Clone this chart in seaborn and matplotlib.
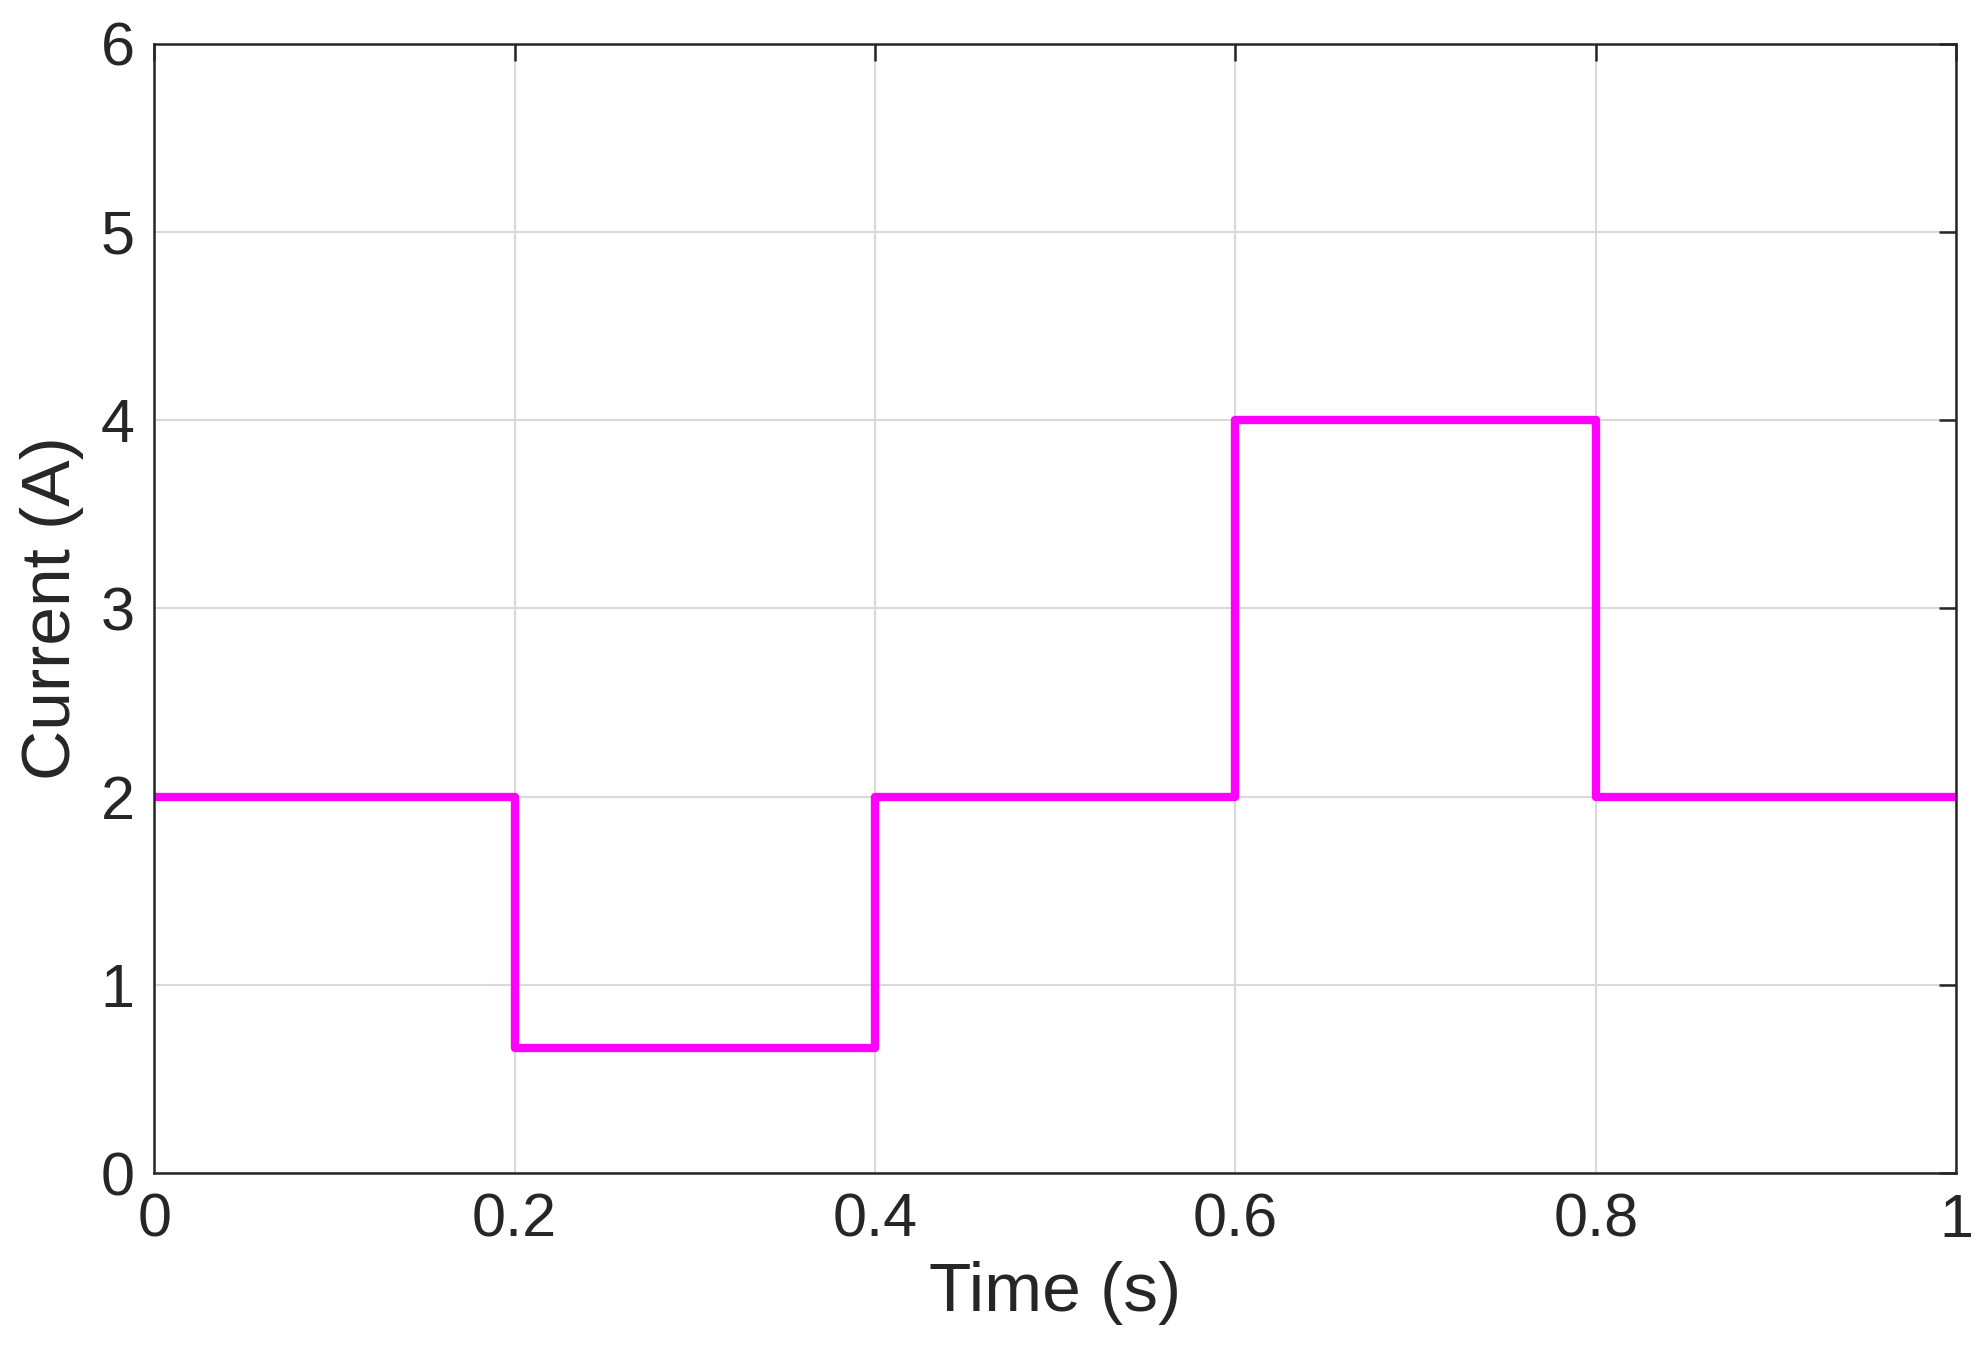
import matplotlib
matplotlib.use("Agg")
import matplotlib.pyplot as plt
import seaborn as sns
import pandas as pd

time_s = [0.0, 0.2, 0.2, 0.4, 0.4, 0.6, 0.6, 0.8, 0.8, 1.0]
current_a = [2.0, 2.0, 0.667, 0.667, 2.0, 2.0, 4.0, 4.0, 2.0, 2.0]
x_ticks = [0, 0.2, 0.4, 0.6, 0.8, 1]
x_labels = ["0", "0.2", "0.4", "0.6", "0.8", "1"]
y_ticks = [0, 1, 2, 3, 4, 5, 6]

sns.set_style("white")
plt.rcParams['font.family'] = ['Liberation Sans', 'DejaVu Sans']

fig = plt.figure(figsize=(19.78, 13.61), dpi=100)
ax = fig.add_axes([0.078, 0.138, 0.911, 0.83])
df = pd.DataFrame({"t": time_s, "i": current_a})
sns.lineplot(data=df, x="t", y="i", sort=False, estimator=None, errorbar=None,
             color="#ff00ff", linewidth=6, ax=ax)
ax.set_xlim(0, 1)
ax.set_ylim(0, 6)
ax.set_xticks(x_ticks)
ax.set_xticklabels(x_labels)
ax.set_yticks(y_ticks)
ax.grid(True, color="#d9d9d9", linewidth=1.5)
ax.set_axisbelow(True)
ax.tick_params(direction="in", length=12, width=1.8, labelsize=44, colors="#262626",
               top=True, right=True, pad=14)
for s in ax.spines.values():
    s.set_visible(True)
    s.set_color("#262626")
    s.set_linewidth(1.8)
ax.set_xlabel("Time (s)", fontsize=50, color="#262626", labelpad=8)
ax.set_ylabel("Current (A)", fontsize=50, color="#262626", labelpad=12)
fig.savefig("out.png", dpi=100, facecolor="white")
